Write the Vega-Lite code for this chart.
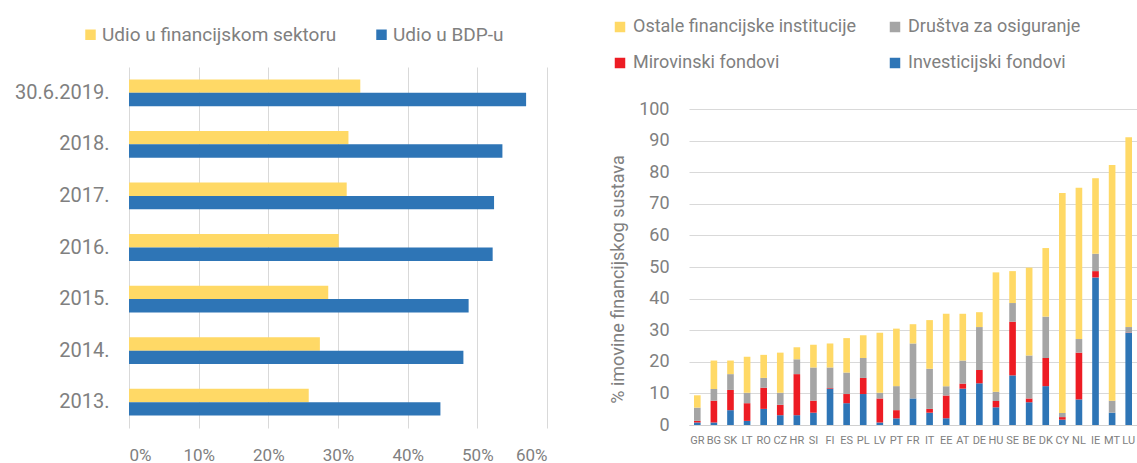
{
  "$schema": "https://vega.github.io/schema/vega-lite/v6.json",
  "autosize": {"type": "pad"},
  "padding": {"left": 14, "top": 18, "right": 0, "bottom": 0},
  "background": "white",
  "bounds": "flush",
  "spacing": 142,
  "config": {
    "view": {"stroke": null},
    "font": "Roboto",
    "axis": {"labelColor": "#808080", "titleColor": "#808080", "gridColor": "#d9d9d9", "gridWidth": 1},
    "legend": {"labelColor": "#808080", "padding": 0}
  },
  "datasets": {
    "left": [
      {"period": "30.6.2019.", "series": "Udio u financijskom sektoru", "value": 33.2},
      {"period": "30.6.2019.", "series": "Udio u BDP-u", "value": 57.0},
      {"period": "2018.", "series": "Udio u financijskom sektoru", "value": 31.5},
      {"period": "2018.", "series": "Udio u BDP-u", "value": 53.6},
      {"period": "2017.", "series": "Udio u financijskom sektoru", "value": 31.25},
      {"period": "2017.", "series": "Udio u BDP-u", "value": 52.4},
      {"period": "2016.", "series": "Udio u financijskom sektoru", "value": 30.1},
      {"period": "2016.", "series": "Udio u BDP-u", "value": 52.2},
      {"period": "2015.", "series": "Udio u financijskom sektoru", "value": 28.6},
      {"period": "2015.", "series": "Udio u BDP-u", "value": 48.75},
      {"period": "2014.", "series": "Udio u financijskom sektoru", "value": 27.4},
      {"period": "2014.", "series": "Udio u BDP-u", "value": 48.0},
      {"period": "2013.", "series": "Udio u financijskom sektoru", "value": 25.8},
      {"period": "2013.", "series": "Udio u BDP-u", "value": 44.7}
    ],
    "right": [
      {"country": "GR", "type": "Investicijski fondovi", "ord": 1, "value": 0.8},
      {"country": "GR", "type": "Mirovinski fondovi", "ord": 2, "value": 0.5},
      {"country": "GR", "type": "Društva za osiguranje", "ord": 3, "value": 4.2},
      {"country": "GR", "type": "Ostale financijske institucije", "ord": 4, "value": 3.9},
      {"country": "BG", "type": "Investicijski fondovi", "ord": 1, "value": 0.8},
      {"country": "BG", "type": "Mirovinski fondovi", "ord": 2, "value": 6.9},
      {"country": "BG", "type": "Društva za osiguranje", "ord": 3, "value": 3.7},
      {"country": "BG", "type": "Ostale financijske institucije", "ord": 4, "value": 9.0},
      {"country": "SK", "type": "Investicijski fondovi", "ord": 1, "value": 4.7},
      {"country": "SK", "type": "Mirovinski fondovi", "ord": 2, "value": 6.4},
      {"country": "SK", "type": "Društva za osiguranje", "ord": 3, "value": 5.0},
      {"country": "SK", "type": "Ostale financijske institucije", "ord": 4, "value": 4.3},
      {"country": "LT", "type": "Investicijski fondovi", "ord": 1, "value": 1.3},
      {"country": "LT", "type": "Mirovinski fondovi", "ord": 2, "value": 5.6},
      {"country": "LT", "type": "Društva za osiguranje", "ord": 3, "value": 3.3},
      {"country": "LT", "type": "Ostale financijske institucije", "ord": 4, "value": 11.4},
      {"country": "RO", "type": "Investicijski fondovi", "ord": 1, "value": 5.1},
      {"country": "RO", "type": "Mirovinski fondovi", "ord": 2, "value": 6.7},
      {"country": "RO", "type": "Društva za osiguranje", "ord": 3, "value": 3.1},
      {"country": "RO", "type": "Ostale financijske institucije", "ord": 4, "value": 7.3},
      {"country": "CZ", "type": "Investicijski fondovi", "ord": 1, "value": 3.1},
      {"country": "CZ", "type": "Mirovinski fondovi", "ord": 2, "value": 3.3},
      {"country": "CZ", "type": "Društva za osiguranje", "ord": 3, "value": 3.8},
      {"country": "CZ", "type": "Ostale financijske institucije", "ord": 4, "value": 12.7},
      {"country": "HR", "type": "Investicijski fondovi", "ord": 1, "value": 3.1},
      {"country": "HR", "type": "Mirovinski fondovi", "ord": 2, "value": 13.0},
      {"country": "HR", "type": "Društva za osiguranje", "ord": 3, "value": 4.7},
      {"country": "HR", "type": "Ostale financijske institucije", "ord": 4, "value": 3.8},
      {"country": "SI", "type": "Investicijski fondovi", "ord": 1, "value": 3.9},
      {"country": "SI", "type": "Mirovinski fondovi", "ord": 2, "value": 3.8},
      {"country": "SI", "type": "Društva za osiguranje", "ord": 3, "value": 10.5},
      {"country": "SI", "type": "Ostale financijske institucije", "ord": 4, "value": 7.2},
      {"country": "FI", "type": "Investicijski fondovi", "ord": 1, "value": 11.5},
      {"country": "FI", "type": "Mirovinski fondovi", "ord": 2, "value": 0.2},
      {"country": "FI", "type": "Društva za osiguranje", "ord": 3, "value": 6.5},
      {"country": "FI", "type": "Ostale financijske institucije", "ord": 4, "value": 7.6},
      {"country": "ES", "type": "Investicijski fondovi", "ord": 1, "value": 6.9},
      {"country": "ES", "type": "Mirovinski fondovi", "ord": 2, "value": 2.9},
      {"country": "ES", "type": "Društva za osiguranje", "ord": 3, "value": 6.8},
      {"country": "ES", "type": "Ostale financijske institucije", "ord": 4, "value": 10.9},
      {"country": "PL", "type": "Investicijski fondovi", "ord": 1, "value": 9.8},
      {"country": "PL", "type": "Mirovinski fondovi", "ord": 2, "value": 5.1},
      {"country": "PL", "type": "Društva za osiguranje", "ord": 3, "value": 6.3},
      {"country": "PL", "type": "Ostale financijske institucije", "ord": 4, "value": 7.2},
      {"country": "LV", "type": "Investicijski fondovi", "ord": 1, "value": 0.8},
      {"country": "LV", "type": "Mirovinski fondovi", "ord": 2, "value": 7.6},
      {"country": "LV", "type": "Društva za osiguranje", "ord": 3, "value": 1.8},
      {"country": "LV", "type": "Ostale financijske institucije", "ord": 4, "value": 19.0},
      {"country": "PT", "type": "Investicijski fondovi", "ord": 1, "value": 2.1},
      {"country": "PT", "type": "Mirovinski fondovi", "ord": 2, "value": 2.6},
      {"country": "PT", "type": "Društva za osiguranje", "ord": 3, "value": 7.6},
      {"country": "PT", "type": "Ostale financijske institucije", "ord": 4, "value": 18.2},
      {"country": "FR", "type": "Investicijski fondovi", "ord": 1, "value": 8.4},
      {"country": "FR", "type": "Mirovinski fondovi", "ord": 2, "value": 0.0},
      {"country": "FR", "type": "Društva za osiguranje", "ord": 3, "value": 17.4},
      {"country": "FR", "type": "Ostale financijske institucije", "ord": 4, "value": 6.1},
      {"country": "IT", "type": "Investicijski fondovi", "ord": 1, "value": 3.9},
      {"country": "IT", "type": "Mirovinski fondovi", "ord": 2, "value": 1.2},
      {"country": "IT", "type": "Društva za osiguranje", "ord": 3, "value": 12.7},
      {"country": "IT", "type": "Ostale financijske institucije", "ord": 4, "value": 15.4},
      {"country": "EE", "type": "Investicijski fondovi", "ord": 1, "value": 2.1},
      {"country": "EE", "type": "Mirovinski fondovi", "ord": 2, "value": 7.2},
      {"country": "EE", "type": "Društva za osiguranje", "ord": 3, "value": 3.0},
      {"country": "EE", "type": "Ostale financijske institucije", "ord": 4, "value": 22.9},
      {"country": "AT", "type": "Investicijski fondovi", "ord": 1, "value": 11.5},
      {"country": "AT", "type": "Mirovinski fondovi", "ord": 2, "value": 1.6},
      {"country": "AT", "type": "Društva za osiguranje", "ord": 3, "value": 7.3},
      {"country": "AT", "type": "Ostale financijske institucije", "ord": 4, "value": 14.8},
      {"country": "DE", "type": "Investicijski fondovi", "ord": 1, "value": 13.2},
      {"country": "DE", "type": "Mirovinski fondovi", "ord": 2, "value": 4.2},
      {"country": "DE", "type": "Društva za osiguranje", "ord": 3, "value": 13.6},
      {"country": "DE", "type": "Ostale financijske institucije", "ord": 4, "value": 4.7},
      {"country": "HU", "type": "Investicijski fondovi", "ord": 1, "value": 5.6},
      {"country": "HU", "type": "Mirovinski fondovi", "ord": 2, "value": 2.0},
      {"country": "HU", "type": "Društva za osiguranje", "ord": 3, "value": 2.9},
      {"country": "HU", "type": "Ostale financijske institucije", "ord": 4, "value": 37.8},
      {"country": "SE", "type": "Investicijski fondovi", "ord": 1, "value": 15.7},
      {"country": "SE", "type": "Mirovinski fondovi", "ord": 2, "value": 17.0},
      {"country": "SE", "type": "Društva za osiguranje", "ord": 3, "value": 5.9},
      {"country": "SE", "type": "Ostale financijske institucije", "ord": 4, "value": 10.1},
      {"country": "BE", "type": "Investicijski fondovi", "ord": 1, "value": 7.2},
      {"country": "BE", "type": "Mirovinski fondovi", "ord": 2, "value": 1.2},
      {"country": "BE", "type": "Društva za osiguranje", "ord": 3, "value": 13.6},
      {"country": "BE", "type": "Ostale financijske institucije", "ord": 4, "value": 27.8},
      {"country": "DK", "type": "Investicijski fondovi", "ord": 1, "value": 12.3},
      {"country": "DK", "type": "Mirovinski fondovi", "ord": 2, "value": 8.9},
      {"country": "DK", "type": "Društva za osiguranje", "ord": 3, "value": 13.1},
      {"country": "DK", "type": "Ostale financijske institucije", "ord": 4, "value": 21.7},
      {"country": "CY", "type": "Investicijski fondovi", "ord": 1, "value": 1.7},
      {"country": "CY", "type": "Mirovinski fondovi", "ord": 2, "value": 0.8},
      {"country": "CY", "type": "Društva za osiguranje", "ord": 3, "value": 1.3},
      {"country": "CY", "type": "Ostale financijske institucije", "ord": 4, "value": 69.6},
      {"country": "NL", "type": "Investicijski fondovi", "ord": 1, "value": 8.1},
      {"country": "NL", "type": "Mirovinski fondovi", "ord": 2, "value": 14.8},
      {"country": "NL", "type": "Društva za osiguranje", "ord": 3, "value": 4.3},
      {"country": "NL", "type": "Ostale financijske institucije", "ord": 4, "value": 47.9},
      {"country": "IE", "type": "Investicijski fondovi", "ord": 1, "value": 46.7},
      {"country": "IE", "type": "Mirovinski fondovi", "ord": 2, "value": 2.0},
      {"country": "IE", "type": "Društva za osiguranje", "ord": 3, "value": 5.5},
      {"country": "IE", "type": "Ostale financijske institucije", "ord": 4, "value": 23.9},
      {"country": "MT", "type": "Investicijski fondovi", "ord": 1, "value": 3.9},
      {"country": "MT", "type": "Mirovinski fondovi", "ord": 2, "value": 0.0},
      {"country": "MT", "type": "Društva za osiguranje", "ord": 3, "value": 3.8},
      {"country": "MT", "type": "Ostale financijske institucije", "ord": 4, "value": 74.6},
      {"country": "LU", "type": "Investicijski fondovi", "ord": 1, "value": 29.2},
      {"country": "LU", "type": "Mirovinski fondovi", "ord": 2, "value": 0.1},
      {"country": "LU", "type": "Društva za osiguranje", "ord": 3, "value": 1.7},
      {"country": "LU", "type": "Ostale financijske institucije", "ord": 4, "value": 60.1}
    ]
  },
  "resolve": {"scale": {"color": "independent"}, "legend": {"color": "independent"}},
  "hconcat": [
    {
      "width": 418,
      "height": 361,
      "data": {"name": "left"},
      "mark": {"type": "bar"},
      "encoding": {
        "y": {
          "field": "period", "type": "nominal",
          "sort": ["30.6.2019.", "2018.", "2017.", "2016.", "2015.", "2014.", "2013."],
          "scale": {"paddingInner": 0.48, "paddingOuter": 0.24},
          "axis": {"title": null, "grid": false, "domain": false, "ticks": false, "labelFontSize": 20, "labelPadding": 20}
        },
        "yOffset": {"field": "series", "type": "nominal", "sort": ["Udio u financijskom sektoru", "Udio u BDP-u"]},
        "x": {
          "field": "value", "type": "quantitative",
          "scale": {"domain": [0, 60], "nice": false},
          "axis": {"title": null, "values": [0, 10, 20, 30, 40, 50, 60], "labelExpr": "datum.value + '%'", "domain": false, "ticks": false, "labelFontSize": 17, "labelPadding": 19, "grid": true}
        },
        "color": {
          "field": "series", "type": "nominal",
          "scale": {"domain": ["Udio u financijskom sektoru", "Udio u BDP-u"], "range": ["#FFD966", "#2E75B6"]},
          "legend": {"title": null, "orient": "none", "direction": "horizontal", "legendX": -48, "legendY": -42, "symbolType": "square", "symbolSize": 110, "symbolStrokeWidth": 0, "labelFontSize": 19, "labelOffset": 2, "columnPadding": 35, "labelLimit": 300}
        }
      }
    },
    {
      "width": 448,
      "height": 358,
      "data": {"name": "right"},
      "mark": {"type": "bar"},
      "encoding": {
        "x": {
          "field": "country", "type": "nominal",
          "sort": ["GR", "BG", "SK", "LT", "RO", "CZ", "HR", "SI", "FI", "ES", "PL", "LV", "PT", "FR", "IT", "EE", "AT", "DE", "HU", "SE", "BE", "DK", "CY", "NL", "IE", "MT", "LU"],
          "scale": {"paddingInner": 0.6, "paddingOuter": 0.3},
          "axis": {"title": null, "labelAngle": 0, "labelFontSize": 11, "labelPadding": 9, "ticks": false, "domainColor": "#d0d0d0", "labelOverlap": false}
        },
        "y": {
          "field": "value", "type": "quantitative", "stack": "zero",
          "scale": {"domain": [0, 113.3], "nice": false},
          "axis": {"title": "% imovine financijskog sustava", "values": [0, 10, 20, 30, 40, 50, 60, 70, 80, 90, 100], "domain": false, "ticks": false, "labelFontSize": 18, "labelPadding": 20, "titleFontSize": 18, "titleFontWeight": "normal", "titleX": -71, "titleY": 212, "titleAlign": "center", "titleBaseline": "middle", "titleAngle": 270}
        },
        "order": {"field": "ord", "type": "quantitative"},
        "color": {
          "field": "type", "type": "nominal",
          "scale": {"domain": ["Ostale financijske institucije", "Društva za osiguranje", "Mirovinski fondovi", "Investicijski fondovi"], "range": ["#FFD966", "#A5A5A5", "#ED1C24", "#2E75B6"]},
          "legend": {"title": null, "orient": "none", "direction": "horizontal", "columns": 2, "legendX": -78, "legendY": -49, "symbolType": "square", "symbolSize": 110, "symbolStrokeWidth": 0, "labelFontSize": 18, "labelOffset": 4, "columnPadding": 29, "rowPadding": 18, "labelLimit": 300}
        }
      }
    }
  ]
}
